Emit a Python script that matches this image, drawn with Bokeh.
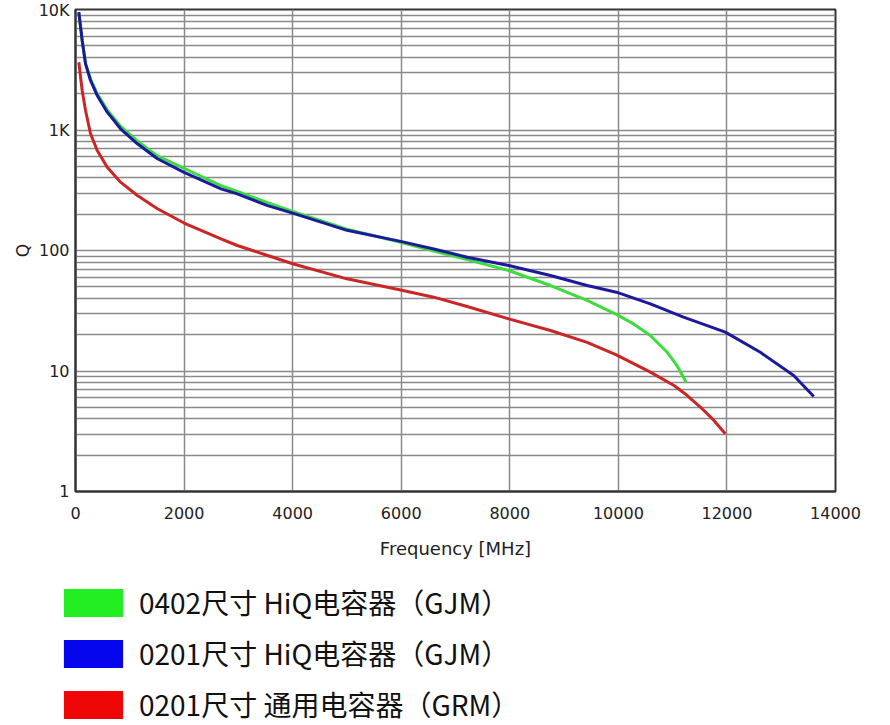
import numpy as np
from bokeh.plotting import figure
from bokeh.models import Range1d, FixedTicker, Legend, LegendItem
from bokeh.embed import file_html
from bokeh.resources import INLINE

# ---- data ----
freq_green = [61, 123, 185, 277, 400, 585, 830, 1140, 1510, 2000, 2680, 2980,
              3540, 4000, 5000, 5990, 6600, 7215, 7980, 8750, 9425, 9963,
              10280, 10590, 10900, 11080, 11250]
q_green = [9500, 5530, 3560, 2650, 2000, 1470, 1075, 810, 610, 480, 345, 309,
           250, 211, 150, 117, 99, 84, 68.2, 51.2, 38.5, 29.5,
           24.6, 19.7, 14.3, 11.1, 8.07]

freq_blue = [61, 123, 185, 277, 400, 585, 830, 1140, 1510, 2000, 2680, 2980,
             3540, 4000, 5000, 5990, 6600, 7215, 7980, 8750, 9425, 9963,
             10590, 11200, 11970, 12615, 13230, 13600]
q_blue = [9500, 5530, 3540, 2575, 1930, 1406, 1023, 768, 577, 445, 325, 295,
          236, 204, 147, 119, 103, 88, 75, 62, 51.2, 45.1,
          36.1, 28.0, 21.0, 14.3, 9.18, 6.14]

freq_red = [61, 123, 185, 277, 400, 585, 830, 1140, 1510, 2000, 2680, 2980,
            3540, 4000, 5000, 5990, 6600, 7215, 7980, 8750, 9425, 9963,
            10590, 11025, 11270, 11515, 11760, 11970]
q_red = [3650, 2128, 1452, 930, 676, 491, 369, 286, 222, 169, 125, 110,
         90.9, 77.6, 58.2, 47, 41, 34.3, 27.1, 21.7, 17.3, 13.6,
         9.78, 7.58, 6.26, 5.0, 3.89, 3.01]

x_ticks = [0, 2000, 4000, 6000, 8000, 10000, 12000, 14000]
y_ticks = [1, 10, 100, 1000, 10000]
y_tick_labels = ["1", "10", "100", "1K", "10K"]
legend_labels = ["0402尺寸 HiQ电容器（GJM）",
                 "0201尺寸 HiQ电容器（GJM）",
                 "0201尺寸 通用电容器（GRM）"]
line_colors = ["#3ddc3d", "#1a1a9a", "#cc2525"]
swatch_colors = ["#22ee22", "#0505ee", "#ee0505"]

# ---- main chart ----
p = figure(width=882, height=575, y_axis_type="log",
           x_range=Range1d(0, 14000), y_range=Range1d(1, 10000),
           output_backend="svg", toolbar_location=None,
           min_border_left=75, min_border_right=47,
           min_border_top=9, min_border_bottom=84,
           background_fill_color="white", border_fill_color="white")

p.outline_line_color = "#333333"
p.outline_line_width = 2

minor = []
for d in y_ticks[:-1]:
    for k in range(2, 10):
        minor.append(d * k)

p.xaxis.ticker = FixedTicker(ticks=x_ticks)
p.yaxis.ticker = FixedTicker(ticks=y_ticks, minor_ticks=minor)
p.xgrid.ticker = FixedTicker(ticks=x_ticks)
p.ygrid.ticker = FixedTicker(ticks=y_ticks, minor_ticks=minor)

for g in (p.xgrid, p.ygrid):
    g.grid_line_color = "#8a8a8a"
    g.grid_line_width = 1.5
p.ygrid.minor_grid_line_color = "#8a8a8a"
p.ygrid.minor_grid_line_width = 1.5

for ax in (p.xaxis, p.yaxis):
    ax.axis_line_color = "#333333"
    ax.axis_line_width = 2
    ax.major_tick_out = 0
    ax.major_tick_in = 0
    ax.minor_tick_out = 0
    ax.minor_tick_in = 0
    ax.axis_label_text_font = "DejaVu Sans"
    ax.axis_label_text_font_style = "normal"
    ax.axis_label_text_color = "#222222"
    ax.major_label_text_font = "DejaVu Sans"
    ax.major_label_text_color = "#222222"
    ax.major_label_text_font_size = "16px"

p.xaxis.major_label_standoff = 15
p.xaxis.axis_label = "Frequency [MHz]"
p.xaxis.axis_label_text_font_size = "18px"
p.xaxis.axis_label_standoff = 16

p.yaxis.major_label_overrides = {t: lab for t, lab in zip(y_ticks, y_tick_labels)}
p.yaxis.major_label_standoff = 6
p.yaxis.axis_label = "Q"
p.yaxis.axis_label_text_font_size = "17px"
p.yaxis.axis_label_standoff = 3

p.line(freq_green, q_green, line_color=line_colors[0], line_width=3)
p.line(freq_blue, q_blue, line_color=line_colors[1], line_width=3)
p.line(freq_red, q_red, line_color=line_colors[2], line_width=3)

# ---- legend area (separate blank figure, own root, below the chart) ----
q = figure(width=882, height=150, x_range=Range1d(0, 1), y_range=Range1d(0, 1),
           output_backend="svg", toolbar_location=None,
           x_axis_location=None, y_axis_location=None,
           min_border_left=50, min_border_right=0,
           min_border_top=1, min_border_bottom=0,
           background_fill_color="white", border_fill_color="white")
q.outline_line_color = None
q.xgrid.visible = False
q.ygrid.visible = False

items = []
for lab, c in zip(legend_labels, swatch_colors):
    # placeholder renderer (NaN data, nothing drawn) that only supplies the swatch
    r = q.quad(left=[np.nan], right=[np.nan], top=[np.nan], bottom=[np.nan],
               fill_color=c, line_color=None)
    items.append(LegendItem(label=lab, renderers=[r]))

legend = Legend(items=items, location="top_left",
                glyph_width=74, glyph_height=35, label_standoff=9,
                spacing=11, padding=0, margin=6,
                border_line_color=None, background_fill_alpha=0,
                label_text_font="Noto Sans CJK SC", label_text_font_size="28px",
                label_text_color="#111111", label_height=35)
q.add_layout(legend, "center")

open("out.html", "w").write(file_html([p, q], INLINE))
